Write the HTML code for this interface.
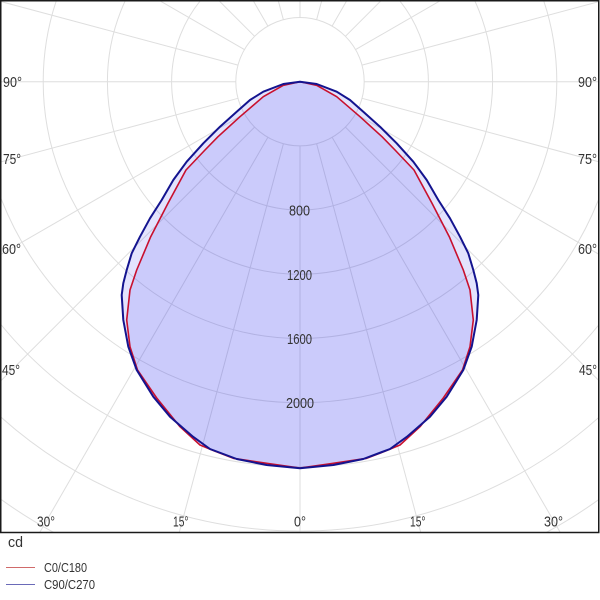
<!DOCTYPE html>
<html>
<head>
<meta charset="utf-8">
<style>
html,body{margin:0;padding:0;background:#fff;width:600px;height:600px;overflow:hidden;}
svg{display:block;}
text{font-family:"Liberation Sans Narrow","Liberation Sans",sans-serif;fill:#333;}
</style>
</head>
<body>
<svg width="600" height="600" viewBox="0 0 600 600" xmlns="http://www.w3.org/2000/svg">
<defs>
<clipPath id="fr"><rect x="1" y="1" width="597" height="531"/></clipPath>
</defs>
<rect x="0" y="0" width="600" height="600" fill="#fff"/>
<g clip-path="url(#fr)">
<g transform="translate(300,81.7)" fill="none" stroke="#dedede" stroke-width="1">
<circle r="64.2"/><circle r="128.4"/><circle r="192.6"/><circle r="256.8"/><circle r="321"/><circle r="385.2"/><circle r="449.4"/><circle r="513.6"/>
<path d="M0,64.2V452 M0,-64.2V-82 M64.2,0H300 M-64.2,0H-300
M16.6,62L121.1,452 M-16.6,62L-121.1,452 M16.6,-62L22,-82 M-16.6,-62L-22,-82
M32.1,55.6L261,452 M-32.1,55.6L-261,452 M32.1,-55.6L47.3,-82 M-32.1,-55.6L-47.3,-82
M45.4,45.4L300,300 M-45.4,45.4L-300,300 M45.4,-45.4L82,-82 M-45.4,-45.4L-82,-82
M55.6,32.1L300,173.2 M-55.6,32.1L-300,173.2 M55.6,-32.1L142,-82 M-55.6,-32.1L-142,-82
M62,16.6L300,80.4 M-62,16.6L-300,80.4 M62,-16.6L300,-80.4 M-62,-16.6L-300,-80.4"/>
</g>
<!-- blue fill -->
<polygon fill="#3c3cf0" fill-opacity="0.147" stroke="none" points="300,81.7 283.3,84 263.3,91.7 250,100 236.7,111.7 220,126.7 203.3,143.3 186.7,161.7 173.3,180 161.7,200 150,218.3 140,236.7 131.7,253.3 126.7,270 123.3,283.3 121.7,295 123.3,320 128.3,346.7 136.7,370 153.3,396.7 170,416.7 193,436.7 210,449 236.7,459 266.7,465 300,468.3 333.3,465 363.3,459 390,449 407,436.7 430,416.7 446.7,396.7 463.3,370 471.7,346.7 476.7,320 478.3,295 476.7,283.3 473.3,270 468.3,253.3 460,236.7 450,218.3 438.3,200 426.7,180 413.3,161.7 396.7,143.3 380,126.7 363.3,111.7 350,100 336.7,91.7 316.7,84"/>
<!-- red fill -->
<polygon fill="#3c3cf0" fill-opacity="0.147" stroke="none" points="300,81.7 283.3,85.3 263.3,96.7 240,116.7 218,136.7 205,150 186,170 168,203.3 150.7,236.7 136.7,270 130,290 126.7,320 130,346.7 137.5,370 156.7,398 180,426.7 200,445 213.3,450.5 233.3,458.3 270,463.8 300,468 330,463.8 366.7,458.3 386.7,450.5 400,445 420,426.7 443.3,398 462.5,370 470,346.7 473.3,320 470,290 463.3,270 449.3,236.7 432,203.3 414,170 395,150 382,136.7 360,116.7 336.7,96.7 316.7,85.3"/>
<!-- red stroke -->
<polygon fill="none" stroke="#c8102e" stroke-width="1.6" stroke-linejoin="round" points="300,81.7 283.3,85.3 263.3,96.7 240,116.7 218,136.7 205,150 186,170 168,203.3 150.7,236.7 136.7,270 130,290 126.7,320 130,346.7 137.5,370 156.7,398 180,426.7 200,445 213.3,450.5 233.3,458.3 270,463.8 300,468 330,463.8 366.7,458.3 386.7,450.5 400,445 420,426.7 443.3,398 462.5,370 470,346.7 473.3,320 470,290 463.3,270 449.3,236.7 432,203.3 414,170 395,150 382,136.7 360,116.7 336.7,96.7 316.7,85.3"/>
<!-- blue stroke -->
<polygon fill="none" stroke="#14148f" stroke-width="2" stroke-linejoin="round" points="300,81.7 283.3,84 263.3,91.7 250,100 236.7,111.7 220,126.7 203.3,143.3 186.7,161.7 173.3,180 161.7,200 150,218.3 140,236.7 131.7,253.3 126.7,270 123.3,283.3 121.7,295 123.3,320 128.3,346.7 136.7,370 153.3,396.7 170,416.7 193,436.7 210,449 236.7,459 266.7,465 300,468.3 333.3,465 363.3,459 390,449 407,436.7 430,416.7 446.7,396.7 463.3,370 471.7,346.7 476.7,320 478.3,295 476.7,283.3 473.3,270 468.3,253.3 460,236.7 450,218.3 438.3,200 426.7,180 413.3,161.7 396.7,143.3 380,126.7 363.3,111.7 350,100 336.7,91.7 316.7,84"/>
</g>
<!-- frame -->
<rect x="0.75" y="0.75" width="598" height="531.75" fill="none" stroke="#1a1a1a" stroke-width="1.5"/>

<!-- side labels -->
<g font-size="15">
<text x="3" y="87" textLength="19" lengthAdjust="spacingAndGlyphs">90°</text>
<text x="3" y="164" textLength="18" lengthAdjust="spacingAndGlyphs">75°</text>
<text x="2" y="254" textLength="19" lengthAdjust="spacingAndGlyphs">60°</text>
<text x="2" y="375" textLength="18" lengthAdjust="spacingAndGlyphs">45°</text>
<text x="578" y="87" textLength="19" lengthAdjust="spacingAndGlyphs">90°</text>
<text x="578" y="164" textLength="19" lengthAdjust="spacingAndGlyphs">75°</text>
<text x="578" y="254" textLength="19" lengthAdjust="spacingAndGlyphs">60°</text>
<text x="579" y="375" textLength="18" lengthAdjust="spacingAndGlyphs">45°</text>
<text x="37" y="526.5" textLength="18" lengthAdjust="spacingAndGlyphs">30°</text>
<text x="173" y="526.5" textLength="15.5" lengthAdjust="spacingAndGlyphs">15°</text>
<text x="294" y="526.5" textLength="12" lengthAdjust="spacingAndGlyphs">0°</text>
<text x="410" y="526.5" textLength="15.5" lengthAdjust="spacingAndGlyphs">15°</text>
<text x="544" y="526.5" textLength="19" lengthAdjust="spacingAndGlyphs">30°</text>
<text x="289" y="215.5" textLength="21" lengthAdjust="spacingAndGlyphs">800</text>
<text x="287" y="280" textLength="25" lengthAdjust="spacingAndGlyphs">1200</text>
<text x="287" y="344" textLength="25" lengthAdjust="spacingAndGlyphs">1600</text>
<text x="286" y="408" textLength="28" lengthAdjust="spacingAndGlyphs">2000</text>
</g>

<!-- legend -->
<text x="8" y="547" font-size="15" textLength="15" lengthAdjust="spacingAndGlyphs">cd</text>
<line x1="6" y1="567.5" x2="35" y2="567.5" stroke="#d06a6a" stroke-width="1"/>
<line x1="6" y1="584.5" x2="35" y2="584.5" stroke="#6a6ab8" stroke-width="1"/>
<text x="44" y="572" font-size="13" textLength="43" lengthAdjust="spacingAndGlyphs">C0/C180</text>
<text x="44" y="589" font-size="13" textLength="51" lengthAdjust="spacingAndGlyphs">C90/C270</text>
</svg>
</body>
</html>
